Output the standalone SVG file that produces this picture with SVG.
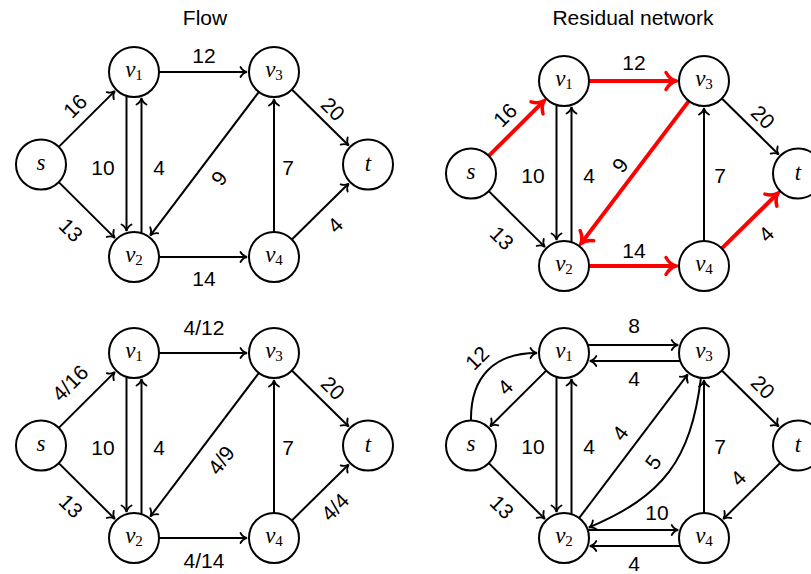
<svg xmlns="http://www.w3.org/2000/svg" width="811" height="574" viewBox="0 0 811 574">
<style>
.nd circle{fill:#fff;stroke:#000;stroke-width:2}
.nl{font-family:"Liberation Serif","DejaVu Serif",serif;font-style:italic;font-size:23px;text-anchor:middle;fill:#000}
.sub{font-style:normal;font-size:15px}
.el{font-family:"Liberation Sans",Arial,sans-serif;font-size:21px;text-anchor:middle;dominant-baseline:central;fill:#000}
.ti{font-family:"Liberation Sans",Arial,sans-serif;font-size:21px;text-anchor:middle;fill:#000}
.e{fill:none;stroke:#000;stroke-width:2;marker-end:url(#ah)}
.r{fill:none;stroke:#f00;stroke-width:4;marker-end:url(#rh)}
</style>
<defs>
<marker id="ah" markerUnits="userSpaceOnUse" refX="-0.5" refY="0" markerWidth="12" markerHeight="12" orient="auto" overflow="visible">
<path d="M-6.5,-5 C-5,-2.2 -2.2,-0.5 0,0 C-2.2,0.5 -5,2.2 -6.5,5" fill="none" stroke="#000" stroke-width="1.8" stroke-linecap="round"/>
</marker>
<marker id="rh" markerUnits="userSpaceOnUse" refX="-2" refY="0" markerWidth="20" markerHeight="20" orient="auto" overflow="visible">
<path d="M-10,-8.5 C-7.5,-4 -3.5,-1 0,0 C-3.5,1 -7.5,4 -10,8.5" fill="none" stroke="#f00" stroke-width="3.5" stroke-linecap="round"/>
</marker>
</defs>
<rect width="811" height="574" fill="#fff"/>
<text class="ti" x="205" y="25">Flow</text>
<text class="ti" x="633" y="25">Residual network</text>

<g id="connectors">
<!-- top-left: Flow -->
<path class="e" d="M58,147.6 L114.5,91.4"/>
<path class="e" d="M58,181.4 L114.5,237.6"/>
<path class="e" d="M158,72 L246.5,72"/>
<path class="e" d="M158,257 L246.5,257"/>
<path class="e" d="M126.5,94.8 L126.5,230.5"/>
<path class="e" d="M141.5,234.2 L141.5,98.5"/>
<path class="e" d="M259.5,91.1 L150.6,235.1"/>
<path class="e" d="M274,233 L274,99.5"/>
<path class="e" d="M291.1,88.8 L348.4,145.2"/>
<path class="e" d="M291.1,240.2 L348.4,183.8"/>
<!-- top-right: Residual network -->
<path class="e" d="M488,190.4 L544.5,246.6"/>
<path class="e" d="M556.5,103.8 L556.5,239.5"/>
<path class="e" d="M571.5,243.2 L571.5,107.5"/>
<path class="e" d="M704,242 L704,108.5"/>
<path class="e" d="M721.1,97.8 L778.4,154.2"/>
<path class="r" d="M488,156.6 L542.7,102.2"/>
<path class="r" d="M588,81 L674,81"/>
<path class="r" d="M588,266 L674,266"/>
<path class="r" d="M689.5,100.1 L582.1,242.1"/>
<path class="r" d="M721.1,249.2 L776.6,194.5"/>
<!-- bottom-left -->
<path class="e" d="M58,428.6 L114.5,372.4"/>
<path class="e" d="M58,462.4 L114.5,518.6"/>
<path class="e" d="M158,353 L246.5,353"/>
<path class="e" d="M158,538 L246.5,538"/>
<path class="e" d="M126.5,375.8 L126.5,511.5"/>
<path class="e" d="M141.5,515.2 L141.5,379.5"/>
<path class="e" d="M259.5,372.1 L150.6,516.1"/>
<path class="e" d="M274,514 L274,380.5"/>
<path class="e" d="M291.1,369.8 L348.4,426.2"/>
<path class="e" d="M291.1,521.2 L348.4,464.8"/>
<!-- bottom-right -->
<path class="e" d="M471,421.5 C470,376 495,353 536.5,353"/>
<path class="e" d="M547,369.9 L490.5,426.1"/>
<path class="e" d="M586.6,345 L677.7,345"/>
<path class="e" d="M681.4,361 L590.3,361"/>
<path class="e" d="M556.5,375.8 L556.5,511.5"/>
<path class="e" d="M571.5,515.2 L571.5,379.5"/>
<path class="e" d="M578.5,518.9 L687.4,374.9"/>
<path class="e" d="M701.1,376.8 C690.7,461.2 663,496 589.3,527.3"/>
<path class="e" d="M704,514 L704,380.5"/>
<path class="e" d="M721.1,369.8 L778.4,426.2"/>
<path class="e" d="M780.9,462.3 L723.6,518.7"/>
<path class="e" d="M488,462.4 L544.5,518.6"/>
<path class="e" d="M586.6,530 L677.7,530"/>
<path class="e" d="M681.4,546 L590.3,546"/>
</g>

<g id="edge-labels">
<!-- top-left -->
<text class="el" transform="translate(75,106) rotate(-45)">16</text>
<text class="el" transform="translate(71,230) rotate(45)">13</text>
<text class="el" x="204" y="55">12</text>
<text class="el" x="103" y="167">10</text>
<text class="el" x="159" y="167">4</text>
<text class="el" transform="translate(219,178) rotate(-53)">9</text>
<text class="el" x="288" y="167">7</text>
<text class="el" transform="translate(333,109) rotate(45)">20</text>
<text class="el" transform="translate(335,225) rotate(-45)">4</text>
<text class="el" x="204" y="278">14</text>
<!-- top-right -->
<text class="el" transform="translate(505,115) rotate(-45)">16</text>
<text class="el" transform="translate(502,238) rotate(45)">13</text>
<text class="el" x="634" y="62">12</text>
<text class="el" x="533" y="175">10</text>
<text class="el" x="589" y="175">4</text>
<text class="el" transform="translate(620,165) rotate(-53)">9</text>
<text class="el" x="720" y="175">7</text>
<text class="el" transform="translate(763,117) rotate(45)">20</text>
<text class="el" transform="translate(766,234) rotate(-45)">4</text>
<text class="el" x="634" y="250">14</text>
<!-- bottom-left -->
<text class="el" transform="translate(70,383) rotate(-45)">4/16</text>
<text class="el" transform="translate(71,506) rotate(45)">13</text>
<text class="el" x="204" y="327">4/12</text>
<text class="el" x="103" y="447">10</text>
<text class="el" x="159" y="447">4</text>
<text class="el" transform="translate(221,460) rotate(-53)">4/9</text>
<text class="el" x="288" y="447">7</text>
<text class="el" transform="translate(333,388) rotate(45)">20</text>
<text class="el" transform="translate(335,507) rotate(-45)">4/4</text>
<text class="el" x="204" y="560">4/14</text>
<!-- bottom-right -->
<text class="el" transform="translate(477,358) rotate(-45)">12</text>
<text class="el" transform="translate(505,387) rotate(-45)">4</text>
<text class="el" x="634" y="325">8</text>
<text class="el" x="634" y="378">4</text>
<text class="el" x="533" y="446">10</text>
<text class="el" x="589" y="446">4</text>
<text class="el" transform="translate(620,433) rotate(-53)">4</text>
<text class="el" transform="translate(653,462) rotate(-53)">5</text>
<text class="el" x="720" y="446">7</text>
<text class="el" transform="translate(763,387) rotate(45)">20</text>
<text class="el" transform="translate(738,478) rotate(-45)">4</text>
<text class="el" transform="translate(502,507) rotate(45)">13</text>
<text class="el" x="657" y="512">10</text>
<text class="el" x="634" y="563">4</text>
</g>

<g id="flow-nodes">
<g id="f-s" class="nd"><circle cx="41" cy="164.5" r="25"/><text class="nl" x="41" y="170">s</text></g>
<g id="f-v1" class="nd"><circle cx="134" cy="72" r="25"/><text class="nl" x="134" y="77">v<tspan class="sub" dy="3">1</tspan></text></g>
<g id="f-v2" class="nd"><circle cx="134" cy="257" r="25"/><text class="nl" x="134" y="262">v<tspan class="sub" dy="3">2</tspan></text></g>
<g id="f-v3" class="nd"><circle cx="274" cy="72" r="25"/><text class="nl" x="274" y="77">v<tspan class="sub" dy="3">3</tspan></text></g>
<g id="f-v4" class="nd"><circle cx="274" cy="257" r="25"/><text class="nl" x="274" y="262">v<tspan class="sub" dy="3">4</tspan></text></g>
<g id="f-t" class="nd"><circle cx="368" cy="164.5" r="25"/><text class="nl" x="368" y="171">t</text></g>
</g>
<g id="residual-nodes">
<g id="r-s" class="nd"><circle cx="471" cy="173.5" r="25"/><text class="nl" x="471" y="179">s</text></g>
<g id="r-v1" class="nd"><circle cx="564" cy="81" r="25"/><text class="nl" x="564" y="86">v<tspan class="sub" dy="3">1</tspan></text></g>
<g id="r-v2" class="nd"><circle cx="564" cy="266" r="25"/><text class="nl" x="564" y="271">v<tspan class="sub" dy="3">2</tspan></text></g>
<g id="r-v3" class="nd"><circle cx="704" cy="81" r="25"/><text class="nl" x="704" y="86">v<tspan class="sub" dy="3">3</tspan></text></g>
<g id="r-v4" class="nd"><circle cx="704" cy="266" r="25"/><text class="nl" x="704" y="271">v<tspan class="sub" dy="3">4</tspan></text></g>
<g id="r-t" class="nd"><circle cx="798" cy="173.5" r="25"/><text class="nl" x="798" y="180">t</text></g>
</g>
<g id="flow2-nodes">
<g id="f2-s" class="nd"><circle cx="41" cy="445.5" r="25"/><text class="nl" x="41" y="451">s</text></g>
<g id="f2-v1" class="nd"><circle cx="134" cy="353" r="25"/><text class="nl" x="134" y="358">v<tspan class="sub" dy="3">1</tspan></text></g>
<g id="f2-v2" class="nd"><circle cx="134" cy="538" r="25"/><text class="nl" x="134" y="543">v<tspan class="sub" dy="3">2</tspan></text></g>
<g id="f2-v3" class="nd"><circle cx="274" cy="353" r="25"/><text class="nl" x="274" y="358">v<tspan class="sub" dy="3">3</tspan></text></g>
<g id="f2-v4" class="nd"><circle cx="274" cy="538" r="25"/><text class="nl" x="274" y="543">v<tspan class="sub" dy="3">4</tspan></text></g>
<g id="f2-t" class="nd"><circle cx="368" cy="445.5" r="25"/><text class="nl" x="368" y="452">t</text></g>
</g>
<g id="residual2-nodes">
<g id="r2-s" class="nd"><circle cx="471" cy="445.5" r="25"/><text class="nl" x="471" y="451">s</text></g>
<g id="r2-v1" class="nd"><circle cx="564" cy="353" r="25"/><text class="nl" x="564" y="358">v<tspan class="sub" dy="3">1</tspan></text></g>
<g id="r2-v2" class="nd"><circle cx="564" cy="538" r="25"/><text class="nl" x="564" y="543">v<tspan class="sub" dy="3">2</tspan></text></g>
<g id="r2-v3" class="nd"><circle cx="704" cy="353" r="25"/><text class="nl" x="704" y="358">v<tspan class="sub" dy="3">3</tspan></text></g>
<g id="r2-v4" class="nd"><circle cx="704" cy="538" r="25"/><text class="nl" x="704" y="543">v<tspan class="sub" dy="3">4</tspan></text></g>
<g id="r2-t" class="nd"><circle cx="798" cy="445.5" r="25"/><text class="nl" x="798" y="452">t</text></g>
</g>
</svg>
